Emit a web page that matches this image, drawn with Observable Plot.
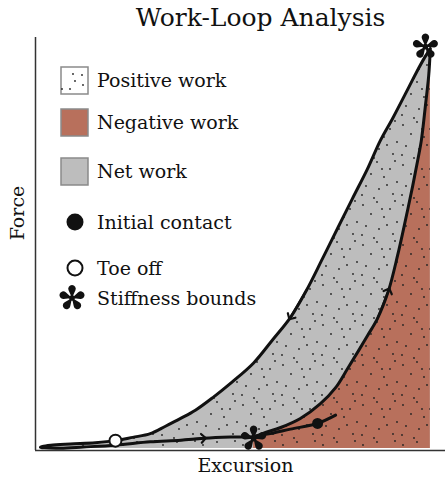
<!DOCTYPE html>
<html>
<head>
<meta charset="utf-8">
<script src="https://cdn.jsdelivr.net/npm/d3@7"></script>
<script src="https://cdn.jsdelivr.net/npm/@observablehq/plot@0.6"></script>
<style>
  html, body { margin: 0; padding: 0; background: #fff; }
  #chart { width: 447px; height: 479px; }
</style>
</head>
<body>
<div id="chart"></div>
<script>
// ---- Data (arbitrary units) ----
// Loading branch: from peak down to the left turn of the loop
const loadExcursion = [96.3, 94.9, 92.9, 91.0, 87.1, 84.1, 81.0, 77.3, 73.9, 70.0, 66.1, 62.2, 57.8, 53.2, 48.0, 43.4, 39.0, 35.4, 31.7, 28.0, 23.7, 19.5, 14.6, 8.5, 3.7, 1.7];
const loadForce     = [97.3, 95.1, 91.5, 87.8, 80.3, 74.9, 68.1, 60.8, 54.0, 46.2, 38.5, 31.9, 26.4, 20.8, 16.2, 12.5, 9.3, 7.3, 5.4, 3.6, 2.7, 1.9, 1.4, 1.1, 0.8, 0.5];
// Swing branch: from the left turn back to the lower stiffness bound
const swingExcursion = [1.7, 1.2, 2.2, 6.1, 11.7, 19.5, 28.0, 35.4, 41.0, 47.6, 53.2];
const swingForce     = [0.5, 0.3, 0.15, 0.07, 0.35, 0.8, 1.6, 2.0, 2.5, 2.8, 2.9];
// Stance branch: from the lower stiffness bound up to the peak
const stanceExcursion = [53.2, 56.1, 59.8, 64.6, 69.5, 73.2, 76.1, 78.8, 81.0, 83.4, 86.1, 88.3, 90.2, 92.0, 93.2, 94.1, 95.1, 95.9, 96.3];
const stanceForce     = [2.9, 3.9, 5.1, 7.3, 10.9, 14.8, 19.4, 23.8, 27.5, 31.6, 38.4, 46.9, 55.4, 63.9, 70.0, 74.9, 83.4, 90.7, 97.3];
// Short trace through initial contact
const contactExcursion = [53.2, 57.3, 62.2, 68.8, 73.2];
const contactForce     = [2.9, 3.6, 4.7, 6.1, 8.1];
// Events
const initialContact = {excursion: 68.8, force: 6.1};
const toeOff = {excursion: 19.5, force: 1.9};
const stiffnessBounds = [{excursion: 53.2, force: 2.4}, {excursion: 95.1, force: 97.8}];
// Direction arrows: [branch, index of arrow tip]
const arrowTips = [["load", 11], ["swing", 8], ["stance", 10]];

const legendLabels = ["Positive work", "Negative work", "Net work", "Initial contact", "Toe off", "Stiffness bounds"];
const titleText = "Work-Loop Analysis";
const xLabel = "Excursion";
const yLabel = "Force";

// ---- Build tables ----
const zip = (xs, ys) => xs.map((x, i) => ({excursion: x, force: ys[i]}));
const load = zip(loadExcursion, loadForce);
const swing = zip(swingExcursion, swingForce);
const stance = zip(stanceExcursion, stanceForce);
const contact = zip(contactExcursion, contactForce);
const branches = {load, swing, stance};
const loop = [...load, ...swing.slice(1), ...stance.slice(1)];
const arrows = arrowTips.map(([b, i]) => [branches[b][i - 1], branches[b][i]]);

const GREY = "#bdbdbd";
const RED = "#b8705c";
const INK = "#111";
const FONT = "DejaVu Serif";

// five-petal flower symbol
const flower = {
  draw(ctx, size) {
    const R = Math.sqrt(size / Math.PI);
    const D = 0.71 * R, pr = 0.29 * R;
    const a = Math.asin(pr / D), L = Math.sqrt(D * D - pr * pr);
    for (let k = 0; k < 5; k++) {
      const t = -Math.PI / 2 + k * 2 * Math.PI / 5;
      ctx.moveTo(0, 0);
      ctx.lineTo(L * Math.cos(t - a), L * Math.sin(t - a));
      ctx.arc(D * Math.cos(t), D * Math.sin(t), pr, t - Math.PI / 2 - a, t + Math.PI / 2 + a);
      ctx.closePath();
    }
    ctx.moveTo(0.22 * R, 0);
    ctx.arc(0, 0, 0.22 * R, 0, 2 * Math.PI);
  }
};

const xy = {x: "excursion", y: "force"};

const svg = Plot.plot({
  width: 447,
  height: 479,
  marginLeft: 35,
  marginRight: 2,
  marginTop: 37,
  marginBottom: 29,
  x: {domain: [0, 100], axis: null},
  y: {domain: [-0.5, 100], axis: null},
  style: {fontFamily: FONT, background: "#fff", color: INK},
  marks: [
    Plot.areaY(load, {...xy, curve: "catmull-rom", fill: GREY}),
    Plot.areaY(stance, {...xy, curve: "catmull-rom", fill: RED}),
    Plot.areaY(load, {...xy, curve: "catmull-rom", fill: "url(#stipple)"}),
    Plot.ruleX([0], {stroke: "#333", strokeWidth: 1.5}),
    Plot.ruleY([-0.5], {stroke: "#333", strokeWidth: 1.5}),
    Plot.line(loop, {...xy, curve: "catmull-rom", stroke: INK, strokeWidth: 3, strokeLinejoin: "round", strokeLinecap: "round"}),
    Plot.line(contact, {...xy, curve: "catmull-rom", stroke: INK, strokeWidth: 3, strokeLinecap: "round"}),
    ...arrows.map(seg => Plot.line(seg, {...xy, stroke: INK, strokeWidth: 2.2, markerEnd: "arrow"})),
    Plot.dot([initialContact], {...xy, r: 5.5, fill: INK}),
    Plot.dot([toeOff], {...xy, r: 6, fill: "#fff", stroke: INK, strokeWidth: 2}),
    Plot.dot(stiffnessBounds, {...xy, r: 13, symbol: flower, fill: INK}),
    Plot.text([titleText], {frameAnchor: "top", textAnchor: "middle", lineAnchor: "middle", dx: 20, dy: -20, fontSize: 25, fontFamily: FONT, fill: INK}),
    Plot.text([xLabel], {frameAnchor: "bottom", textAnchor: "middle", lineAnchor: "middle", dx: 5, dy: 15, fontSize: 19, fontFamily: FONT, fill: INK}),
    Plot.text([yLabel], {frameAnchor: "left", textAnchor: "middle", lineAnchor: "middle", dx: -18, dy: -31, rotate: -90, fontSize: 19, fontFamily: FONT, fill: INK})
  ]
});

// pattern defs + legend
const s = d3.select(svg);
const defs = s.insert("defs", ":first-child");
const pat = defs.append("pattern").attr("id", "stipple").attr("patternUnits", "userSpaceOnUse")
  .attr("width", 40).attr("height", 40);
[[3,5],[17,2],[30,9],[11,14],[24,17],[37,22],[6,26],[19,29],[33,34],[14,38],[27,25],[2,35],[35,1],[22,9]]
  .forEach(([cx, cy]) => pat.append("circle").attr("cx", cx).attr("cy", cy).attr("r", 0.9).attr("fill", "#222"));

const lg = s.append("g").attr("font-family", FONT).attr("font-size", 19).attr("fill", INK).attr("text-anchor", "start");
const rows = [
  {cy: 80, kind: "stipple"},
  {cy: 122, kind: "red"},
  {cy: 171, kind: "grey"},
  {cy: 222, kind: "ic"},
  {cy: 268, kind: "to"},
  {cy: 298, kind: "star"}
];
rows.forEach((r, i) => {
  if (r.kind === "stipple") {
    lg.append("rect").attr("x", 61).attr("y", r.cy - 13).attr("width", 27).attr("height", 27).attr("fill", "#fff").attr("stroke", "#8a8a8a").attr("stroke-width", 1.5);
    lg.append("rect").attr("x", 61).attr("y", r.cy - 13).attr("width", 27).attr("height", 27).attr("fill", "url(#stipple)");
  } else if (r.kind === "red" || r.kind === "grey") {
    lg.append("rect").attr("x", 61).attr("y", r.cy - 13).attr("width", 27).attr("height", 27)
      .attr("fill", r.kind === "red" ? RED : GREY).attr("stroke", "#8a8a8a").attr("stroke-width", 1.5);
  } else if (r.kind === "ic") {
    lg.append("circle").attr("cx", 75).attr("cy", r.cy).attr("r", 8.5).attr("fill", INK);
  } else if (r.kind === "to") {
    lg.append("circle").attr("cx", 75).attr("cy", r.cy).attr("r", 7.5).attr("fill", "#fff").attr("stroke", INK).attr("stroke-width", 2);
  } else {
    lg.append("path").attr("transform", `translate(72,${r.cy})`).attr("d", d3.symbol(flower, Math.PI * 13 * 13)()).attr("fill", INK);
  }
  lg.append("text").attr("x", 97).attr("y", r.cy).attr("dy", "0.36em").attr("text-anchor", "start").text(legendLabels[i]);
});

document.getElementById("chart").appendChild(svg);
</script>
</body>
</html>
